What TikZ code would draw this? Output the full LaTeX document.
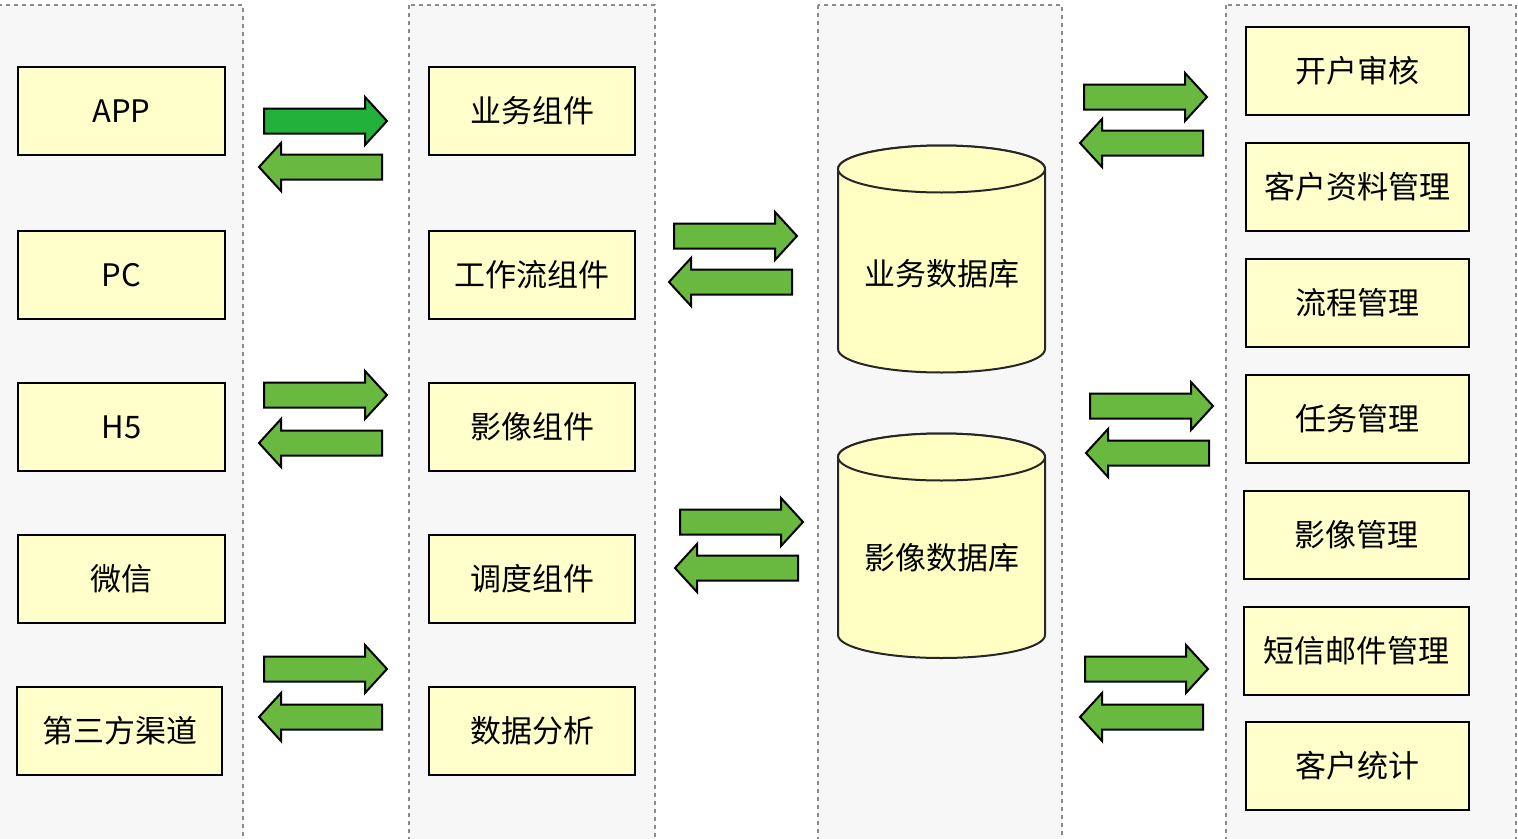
\documentclass[tikz,border=0pt]{standalone}
\usepackage{fontspec}
\setmainfont{Noto Sans CJK SC}
\begin{document}
\begin{tikzpicture}[x=1pt,y=-1pt,
  colbg/.style={fill=colgray,draw=bordergray,line width=1.5pt,dash pattern=on 4pt off 4pt},
  box/.style={draw=black,line width=2pt,fill=boxyellow,minimum height=88pt,inner sep=0pt,font=\fontsize{31}{36}\selectfont},
  arrowbody/.style={draw=black,line width=2pt,line join=miter},
  cyl/.style={draw=black!85,line width=2pt,fill=cylyellow},
  lbl/.style={font=\fontsize{31}{36}\selectfont,inner sep=0pt},
  rarr/.pic={\path[arrowbody,pic actions] (-123,-12.5) -- (-22,-12.5) -- (-22,-24) -- (0,0) -- (-22,24) -- (-22,12.5) -- (-123,12.5) -- cycle;},
  larr/.pic={\path[arrowbody,pic actions] (123,-12.5) -- (22,-12.5) -- (22,-24) -- (0,0) -- (22,24) -- (22,12.5) -- (123,12.5) -- cycle;}
]
\definecolor{colgray}{HTML}{F7F7F7}
\definecolor{bordergray}{HTML}{8C8C8C}
\definecolor{boxyellow}{HTML}{FFFFCC}
\definecolor{cylyellow}{HTML}{FFFFC4}
\definecolor{greenA}{HTML}{22B13A}
\definecolor{greenB}{HTML}{69B83F}
\useasboundingbox (0,0) rectangle (1518,838);
\fill[white] (0,0) rectangle (1518,838);
% columns
\path[colbg] (-10,5) rectangle (243,850);
\path[colbg] (409,5) rectangle (655,850);
\path[colbg] (818,5) rectangle (1062,850);
\path[colbg] (1226,5) rectangle (1516,850);
% column 1
\node[box,minimum width=207pt] (app) at (121.5,111) {APP};
\node[box,minimum width=207pt] (pc) at (121.5,275) {PC};
\node[box,minimum width=207pt] (h5) at (121.5,427) {H5};
\node[box,minimum width=207pt] (wx) at (121.5,579) {微信};
\node[box,minimum width=205pt] (dsf) at (119.5,731) {第三方渠道};
% column 2
\node[box,minimum width=206pt] (ywzj) at (532,111) {业务组件};
\node[box,minimum width=206pt] (gzl) at (532,275) {工作流组件};
\node[box,minimum width=206pt] (yxzj) at (532,427) {影像组件};
\node[box,minimum width=206pt] (ddzj) at (532,579) {调度组件};
\node[box,minimum width=206pt] (sjfx) at (532,731) {数据分析};
% column 4
\node[box,minimum width=223pt] (khsh) at (1357.5,71) {开户审核};
\node[box,minimum width=223pt] (khzl) at (1357.5,187) {客户资料管理};
\node[box,minimum width=223pt] (lcgl) at (1357.5,303) {流程管理};
\node[box,minimum width=223pt] (rwgl) at (1357.5,419) {任务管理};
\node[box,minimum width=225pt] (yxgl) at (1356.5,535) {影像管理};
\node[box,minimum width=225pt] (dxyj) at (1356.5,651) {短信邮件管理};
\node[box,minimum width=223pt] (khtj) at (1357.5,766) {客户统计};
% cylinders
\path[cyl] (838,169) -- (838,349) arc[start angle=180,end angle=0,x radius=103.5,y radius=23.5] -- (1045,169) arc[start angle=0,end angle=-180,x radius=103.5,y radius=23.5] -- cycle;
\draw[cyl] (941.5,169) ellipse[x radius=103.5,y radius=23.5];
\node[lbl] (ywsjk) at (941.5,274) {业务数据库};
\path[cyl] (838,457) -- (838,635) arc[start angle=180,end angle=0,x radius=103.5,y radius=23] -- (1045,457) arc[start angle=0,end angle=-180,x radius=103.5,y radius=23.5] -- cycle;
\draw[cyl] (941.5,457) ellipse[x radius=103.5,y radius=23.5];
\node[lbl] (yxsjk) at (941.5,558) {影像数据库};
% arrows column 1 - 2
\pic[fill=greenA] at (387,121) {rarr};
\pic[fill=greenB] at (259,167) {larr};
\pic[fill=greenB] at (387,395) {rarr};
\pic[fill=greenB] at (259,443) {larr};
\pic[fill=greenB] at (387,669) {rarr};
\pic[fill=greenB] at (259,717) {larr};
% arrows column 2 - 3
\pic[fill=greenB] at (797,236) {rarr};
\pic[fill=greenB] at (669,282) {larr};
\pic[fill=greenB] at (803,522) {rarr};
\pic[fill=greenB] at (675,568) {larr};
% arrows column 3 - 4
\pic[fill=greenB] at (1207,97) {rarr};
\pic[fill=greenB] at (1080,143) {larr};
\pic[fill=greenB] at (1213,406) {rarr};
\pic[fill=greenB] at (1086,453) {larr};
\pic[fill=greenB] at (1208,669) {rarr};
\pic[fill=greenB] at (1080,717) {larr};
\end{tikzpicture}
\end{document}
